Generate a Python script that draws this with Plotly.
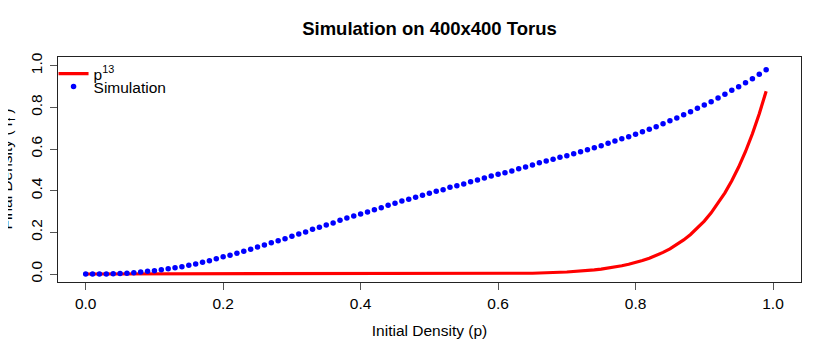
import plotly.graph_objects as go

# ===== Data =====
# initial density p (simulation grid)
sim_p = [0.00, 0.01, 0.02, 0.03, 0.04, 0.05, 0.06, 0.07, 0.08, 0.09,
         0.10, 0.11, 0.12, 0.13, 0.14, 0.15, 0.16, 0.17, 0.18, 0.19,
         0.20, 0.21, 0.22, 0.23, 0.24, 0.25, 0.26, 0.27, 0.28, 0.29,
         0.30, 0.31, 0.32, 0.33, 0.34, 0.35, 0.36, 0.37, 0.38, 0.39,
         0.40, 0.41, 0.42, 0.43, 0.44, 0.45, 0.46, 0.47, 0.48, 0.49,
         0.50, 0.51, 0.52, 0.53, 0.54, 0.55, 0.56, 0.57, 0.58, 0.59,
         0.60, 0.61, 0.62, 0.63, 0.64, 0.65, 0.66, 0.67, 0.68, 0.69,
         0.70, 0.71, 0.72, 0.73, 0.74, 0.75, 0.76, 0.77, 0.78, 0.79,
         0.80, 0.81, 0.82, 0.83, 0.84, 0.85, 0.86, 0.87, 0.88, 0.89,
         0.90, 0.91, 0.92, 0.93, 0.94, 0.95, 0.96, 0.97, 0.98, 0.99]

# final density from the simulation
sim_r = [0.0, 0.0, 0.0, 0.0005, 0.0016, 0.002, 0.0032, 0.0064, 0.0096, 0.0128,
         0.016, 0.0208, 0.0256, 0.0304, 0.0352, 0.0416, 0.048, 0.056, 0.064, 0.0736,
         0.0832, 0.0896, 0.0992, 0.1088, 0.1184, 0.1296, 0.1392, 0.1504, 0.160, 0.1696,
         0.1808, 0.192, 0.2016, 0.2144, 0.224, 0.2352, 0.2448, 0.2576, 0.2688, 0.2784,
         0.288, 0.2976, 0.3088, 0.3184, 0.3297, 0.3392, 0.3505, 0.3584, 0.368, 0.3777,
         0.3873, 0.3969, 0.4049, 0.4161, 0.4241, 0.4321, 0.4433, 0.4513, 0.4609, 0.4705,
         0.4785, 0.4865, 0.4945, 0.5057, 0.5137, 0.5233, 0.534, 0.5425, 0.5505, 0.5601,
         0.5681, 0.5777, 0.5873, 0.5969, 0.6065, 0.6161, 0.6273, 0.6385, 0.6497, 0.6593,
         0.6705, 0.6833, 0.6945, 0.7073, 0.7217, 0.7361, 0.7489, 0.7649, 0.7793, 0.7953,
         0.8113, 0.8273, 0.845, 0.8626, 0.8818, 0.8994, 0.9186, 0.9378, 0.9586, 0.981]

# p^13 curve
curve_p = [0.0, 0.1, 0.2, 0.3, 0.4, 0.5, 0.55, 0.6, 0.65,
           0.70, 0.71, 0.72, 0.73, 0.74, 0.75, 0.76, 0.77, 0.78, 0.79,
           0.80, 0.81, 0.82, 0.83, 0.84, 0.85, 0.86, 0.87, 0.88, 0.89,
           0.90, 0.91, 0.92, 0.93, 0.94, 0.95, 0.96, 0.97, 0.98, 0.99]
curve_r = [0.0, 0.0, 0.0, 0.0, 0.0, 0.0001, 0.0004, 0.0013, 0.0037,
           0.0097, 0.0117, 0.0140, 0.0167, 0.0200, 0.0238, 0.0282, 0.0334, 0.0396, 0.0467,
           0.0550, 0.0646, 0.0758, 0.0887, 0.1037, 0.1209, 0.1408, 0.1636, 0.1898, 0.2198,
           0.2542, 0.2935, 0.3383, 0.3893, 0.4474, 0.5133, 0.5882, 0.6730, 0.7690, 0.8775]

tick_vals = [0.0, 0.2, 0.4, 0.6, 0.8, 1.0]
tick_text = ["0.0", "0.2", "0.4", "0.6", "0.8", "1.0"]

FONT = "Liberation Sans, Arial, sans-serif"

fig = go.Figure()
fig.add_trace(go.Scatter(x=curve_p, y=curve_r, mode="lines", name="p<sup>13</sup>",
                         line=dict(color="#ff0000", width=3.2), legend="legend"))
fig.add_trace(go.Scatter(x=sim_p, y=sim_r, mode="markers", name="Simulation",
                         marker=dict(color="#0000ff", size=5.5), legend="legend2"))

axis_style = dict(showgrid=False, zeroline=False, showline=True, mirror=True,
                  linecolor="#222", linewidth=1, ticks="outside", ticklen=7,
                  tickcolor="#555", automargin=False, tickvals=tick_vals,
                  ticktext=tick_text, tickfont=dict(size=15.5))

# page body adds 8px offset top/left, so the figure is 8px smaller than the window
fig.update_layout(
    width=822, height=347,
    margin=dict(l=50, r=29, t=49, b=73, autoexpand=False),
    paper_bgcolor="white", plot_bgcolor="white",
    font=dict(family=FONT, size=15.5, color="black"),
    title=dict(text="<b>Simulation on 400x400 Torus</b>", x=0.5, xanchor="center",
               xref="paper", y=0.94, yanchor="middle", font=dict(size=18.5)),
    showlegend=True,
    legend=dict(x=-0.006, y=0.9244, xanchor="left", yanchor="middle",
                bgcolor="rgba(0,0,0,0)", font=dict(size=15.5), itemwidth=30),
    legend2=dict(x=-0.006, y=0.8667, xanchor="left", yanchor="middle",
                 bgcolor="rgba(0,0,0,0)", font=dict(size=15.5), itemwidth=30),
    xaxis=dict(range=[-0.0403, 1.0407],
               title=dict(text="Initial Density (p)", standoff=14, font=dict(size=15.5)),
               **axis_style),
    yaxis=dict(range=[-0.0384, 1.0418], tickangle=-90, ticklabelstandoff=2, **axis_style),
    annotations=[dict(text="Final Density ( r<sub>f</sub> )", textangle=-90,
                      xref="paper", yref="paper", x=0, y=0.5, xshift=-51,
                      xanchor="center", yanchor="middle", showarrow=False,
                      font=dict(size=15.5))],
)

fig.write_html("out.html")
